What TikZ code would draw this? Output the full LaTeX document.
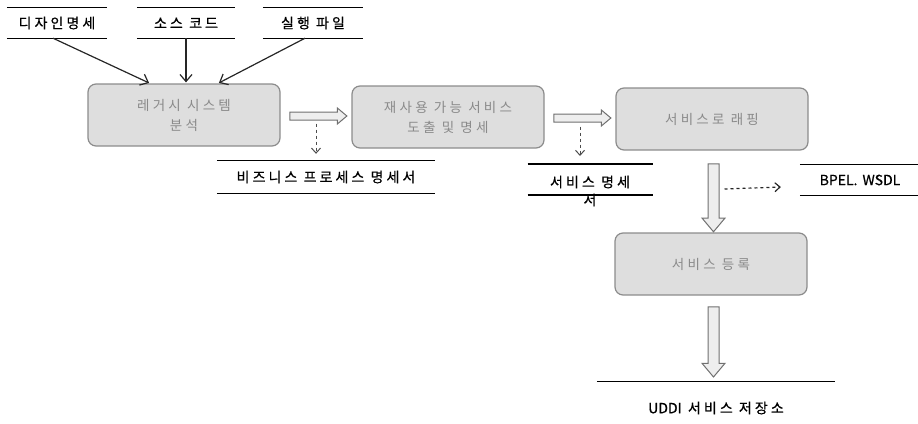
\documentclass[tikz,border=0pt]{standalone}
\usepackage{fontspec}
\setmainfont{Noto Sans CJK KR}
\newfontfamily\kr[LetterSpace=24]{Noto Sans CJK KR}
\newfontfamily\krdoc[LetterSpace=22,FakeBold=0.6]{Noto Sans CJK KR}
\newfontfamily\latdoc[FakeBold=0.6,WordSpace=1.6]{Noto Sans CJK KR}
\usetikzlibrary{arrows.meta,shapes.arrows,calc,positioning}
\definecolor{boxfill}{HTML}{DEDEDE}
\definecolor{boxline}{HTML}{8C8C8C}
\definecolor{boxtext}{HTML}{8A8A8A}
\definecolor{fatfill}{HTML}{EEEEEE}
\tikzset{
  proc/.style={draw=boxline, fill=boxfill, line width=1.2pt, rounded corners=8pt,
    minimum width=192pt, minimum height=62pt, align=center, text=boxtext,
    font=\fontsize{13.5}{20}\selectfont\kr},
  doc/.style={inner sep=0pt, minimum height=30pt, align=center,
    font=\fontsize{14}{18}\selectfont\krdoc},
  docline/.style={line width=1.2pt},
  fat/.style={single arrow, draw=boxline!80!black, fill=fatfill, line width=1pt,
    inner xsep=0pt, inner ysep=3.5pt, single arrow head extend=4pt, single arrow tip angle=80},
  feed/.style={line width=1.2pt, draw=black!85, -{Straight Barb[length=7pt,width=12pt]}},
  dashfeed/.style={dashed, line width=1pt, draw=black!70, -{Straight Barb[length=5pt,width=9pt]}}
}
\begin{document}
\begin{tikzpicture}[x=1pt,y=-1pt]
    \useasboundingbox (0,0) rectangle (918,423);
    % Process boxes
    \node[proc] (legacy) at (184,115) {레거시 시스템\\분석};
    \node[proc] (reuse) at (448,117) {재사용 가능 서비스\\도출 및 명세};
    \node[proc] (wrap) at (712,119) {서비스로 래핑};
    \node[proc] (reg) at (711,264) {서비스 등록};

    % Inputs and outputs
    \node[doc, minimum width=100pt] (design) at (57,23) {디자인명세};
    \node[doc, minimum width=98pt] (source) at (186,23) {소스 코드};
    \node[doc, minimum width=100pt] (exe) at (313,23) {실행 파일};
    \node[doc, minimum width=218pt, minimum height=32pt] (bpspec) at (326,177) {비즈니스 프로세스 명세서};
    \node[doc] (svcspec) at (590,191) {서비스 명세\\서};
    \node[doc, minimum width=120pt, font=\fontsize{14}{16}\selectfont\latdoc] (bpel) at (860,180) {BPEL. WSDL};
    \node[doc, minimum width=238pt, minimum height=52pt] (uddi) at (716,408) {{\latdoc UDDI} 서비스 저장소};

    \foreach \d in {design,source,exe,bpspec,bpel}{
    \draw[docline] (\d.north west) -- (\d.north east) (\d.south west) -- (\d.south east);
    }
    \draw[docline] ([shift={(-62.5,-27)}]svcspec.center) -- ++(125,0)
                   ([shift={(-62.5,4)}]svcspec.center) -- ++(125,0);
    \draw[docline] (uddi.north west) -- (uddi.north east);

    % Fat arrows
    \node[fat, minimum height=57pt] (a1) at ($(legacy.east)!0.5!(reuse.west)$) {};
    \node[fat, minimum height=57pt] (a2) at ($(reuse.east)!0.5!(wrap.west)$) {};
    \node[fat, inner ysep=5pt, single arrow head extend=6pt, minimum height=68pt, rotate=-90,
          xshift=3pt, yshift=2pt] (a3) at ($(wrap.south)!0.5!(reg.north)$) {};
    \node[fat, inner ysep=5pt, single arrow head extend=6pt, minimum height=70pt, rotate=-90]
          (a4) at ($(reg.south)!0.5!(uddi.north)$) {};

    % Feeds
    \draw[feed, shorten >=1pt] ([xshift=-4pt]design.south) -- ([xshift=-34pt]legacy.north);
    \draw[feed, shorten >=1pt] (source.south) -- (source.south |- legacy.north);
    \draw[feed, shorten >=1pt] ([xshift=-8pt]exe.south) -- ([xshift=34pt]legacy.north);

    \draw[dashfeed, shorten <=3pt, shorten >=7pt] (a1.south) -- (a1.south |- bpspec.north);
    \draw[dashfeed, shorten <=4pt, shorten >=8pt] (a2.south) -- ([shift={(0,-27)}]svcspec.center -| a2.south);
    \draw[dashfeed, draw=black!85, line width=1.2pt] ([shift={(11,-5.5)}]a3.center) -- ([shift={(-19,7)}]bpel.west);
\end{tikzpicture}
\end{document}
